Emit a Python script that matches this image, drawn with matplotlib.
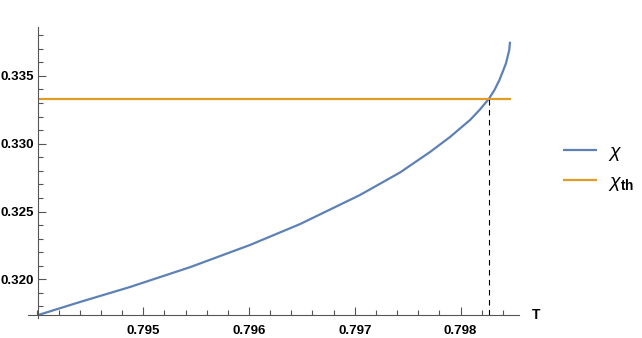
import matplotlib.pyplot as plt
from matplotlib.ticker import MultipleLocator, FixedLocator

# values
T = [0.794008, 0.794402, 0.794875, 0.795442, 0.796009, 0.796482, 0.797049,
     0.797427, 0.797711, 0.797900, 0.798089, 0.798183, 0.798268, 0.798320,
     0.798367, 0.798401, 0.798429, 0.798460, 0.798467]
chi = [0.317367, 0.318326, 0.319432, 0.320892, 0.322530, 0.324071, 0.326217,
       0.327877, 0.329388, 0.330495, 0.331748, 0.332523, 0.333319, 0.333961,
       0.334698, 0.335362, 0.335930, 0.336911, 0.337523]
chi_th = 1 / 3
T_th = [0.794008, 0.798480]
T_cross = 0.798268

x_ticks = [0.795, 0.796, 0.797, 0.798]
y_ticks = [0.320, 0.325, 0.330, 0.335]

blue = '#5E81B5'
orange = '#E19C24'

plt.rcParams['font.family'] = ['Liberation Sans', 'DejaVu Sans']
plt.rcParams['mathtext.fontset'] = 'custom'
plt.rcParams['mathtext.it'] = 'Liberation Sans:italic'
plt.rcParams['mathtext.bf'] = 'Liberation Sans:bold'
plt.rcParams['mathtext.rm'] = 'Liberation Sans'

fig = plt.figure(figsize=(6.42, 3.38), dpi=100)
ax = fig.add_axes([28 / 642, 1 - 318 / 338, (519 - 28) / 642, (318 - 27.3) / 338])

x0, y0 = T[0], chi[0]
ax.set_xlim(0.793911, 0.798552)
ax.set_ylim(0.317146, 0.338585)

ax.plot(T, chi, color=blue, lw=1.6, label=r'$\chi$', solid_capstyle='butt',
        solid_joinstyle='round')
ax.plot(T_th, [chi_th, chi_th], color=orange, lw=1.6, label=r'$\chi_{\mathbf{th}}$',
        solid_capstyle='butt')
ax.plot([T_cross, T_cross], [y0, chi_th], color='black', lw=0.8,
        ls=(0, (5, 4)))

for s in ['top', 'right']:
    ax.spines[s].set_visible(False)
ax.spines['left'].set_position(('data', x0))
ax.spines['bottom'].set_position(('data', y0))
for s in ['left', 'bottom']:
    ax.spines[s].set_color('#555555')
    ax.spines[s].set_linewidth(0.8)

ax.xaxis.set_major_locator(FixedLocator(x_ticks))
ax.xaxis.set_minor_locator(MultipleLocator(0.0002))
ax.yaxis.set_major_locator(FixedLocator(y_ticks))
ax.yaxis.set_minor_locator(MultipleLocator(0.001))
ax.xaxis.set_major_formatter(plt.FuncFormatter(lambda v, p: f'{v:.3f}'))
ax.yaxis.set_major_formatter(plt.FuncFormatter(lambda v, p: f'{v:.3f}'))

ax.tick_params(which='both', direction='in', color='#555555', width=0.8,
               labelsize=9.5, labelcolor='black')
ax.tick_params(which='major', length=6)
ax.tick_params(which='minor', length=3.5)
ax.tick_params(axis='x', pad=7)
ax.tick_params(axis='y', pad=3)
for lab in ax.get_xticklabels() + ax.get_yticklabels():
    lab.set_fontweight('bold')

# x in axes coords, y in data coords
ax.text(1.026, y0, 'T', transform=ax.get_yaxis_transform(), ha='left',
        va='center', fontsize=10, fontweight='bold')

fig.legend(loc='center left', bbox_to_anchor=(553 / 642, 1 - 168 / 338),
           frameon=False, fontsize=14, handlelength=1.75,
           handletextpad=0.6, labelspacing=0.55, borderpad=0)

fig.savefig('out.png', dpi=100)
